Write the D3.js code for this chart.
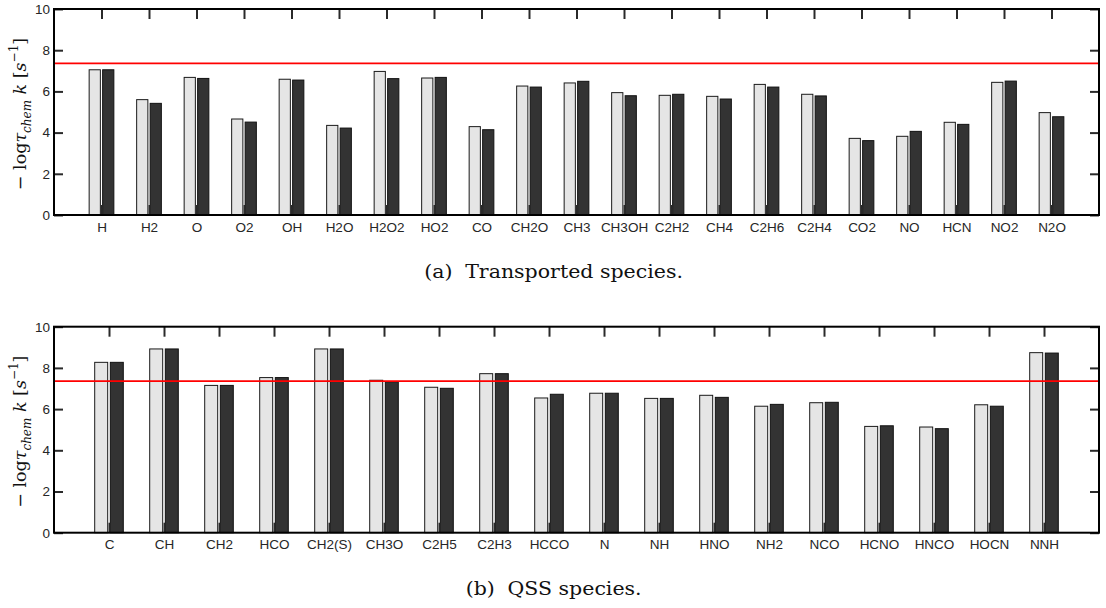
<!DOCTYPE html>
<html><head><meta charset="utf-8">
<script src="https://cdn.jsdelivr.net/npm/d3@7"></script>
<style>
html,body{margin:0;padding:0;background:#fff;}
svg{display:block;}
</style></head>
<body>
<svg id="chart" width="1106" height="608"></svg>
<script>
// ---- data ----
const topCategories = ["H","H2","O","O2","OH","H2O","H2O2","HO2","CO","CH2O","CH3","CH3OH","C2H2","CH4","C2H6","C2H4","CO2","NO","HCN","NO2","N2O"];
const topSeriesA = [7.05,5.60,6.68,4.66,6.59,4.35,6.97,6.65,4.29,6.26,6.41,5.94,5.81,5.76,6.34,5.86,3.72,3.82,4.50,6.44,4.97];
const topSeriesB = [7.05,5.42,6.63,4.51,6.55,4.22,6.62,6.68,4.14,6.21,6.49,5.79,5.86,5.63,6.21,5.78,3.61,4.06,4.40,6.50,4.77];

const bottomCategories = ["C","CH","CH2","HCO","CH2(S)","CH3O","C2H5","C2H3","HCCO","N","NH","HNO","NH2","NCO","HCNO","HNCO","HOCN","NNH"];
const bottomSeriesA = [8.27,8.92,7.15,7.53,8.92,7.40,7.06,7.72,6.54,6.77,6.52,6.67,6.14,6.31,5.16,5.13,6.21,8.74];
const bottomSeriesB = [8.27,8.92,7.15,7.53,8.92,7.33,7.01,7.72,6.72,6.77,6.52,6.57,6.23,6.33,5.19,5.05,6.14,8.72];

const threshold = 7.36;
const yTicks = [0,2,4,6,8,10];
const captions = [["(a)","Transported species."],["(b)","QSS species."]];

// ---- drawing ----
const svg = d3.select("#chart");
const left = 54, right = 1099;
const capFont = "'DejaVu Serif', serif";
const capSize = 19;
const capGap = 11.7;

function measure(str) {
  const t = svg.append("text").style("font-family", capFont).style("font-size", capSize + "px").text(str);
  const w = t.node().getComputedTextLength();
  t.remove();
  return w;
}
// horizontal scale so that caption (b) matches the reference width (176 px)
const capScale = 176 / (measure(captions[1][0]) + capGap + measure(captions[1][1]));

function panel(top, cats, sA, sB, caption) {
  const bottom = top + 206;
  const n = cats.length;
  const x = d3.scaleLinear().domain([0, n + 1]).range([left, right]);
  const y = d3.scaleLinear().domain([0, 10]).range([bottom, top]);
  const g = svg.append("g");
  const idx = d3.range(n);
  const w = 0.236, off = 0.024;

  const tickStyle = sel => {
    sel.select(".domain").remove();
    sel.selectAll(".tick line").attr("stroke", "#2a2a2a").attr("stroke-width", 2);
    sel.selectAll(".tick text").attr("fill", "#262626")
      .style("font-family", "'Liberation Sans', Arial, sans-serif").style("font-size", "13.5px");
  };
  g.append("g").attr("transform", `translate(${left},0)`)
    .call(d3.axisLeft(y).tickValues(yTicks).tickFormat(d3.format("d")).tickSizeInner(-9).tickSizeOuter(0).tickPadding(4))
    .call(tickStyle);
  g.append("g").attr("transform", `translate(${right},0)`)
    .call(d3.axisRight(y).tickValues(yTicks).tickFormat("").tickSizeInner(-9).tickSizeOuter(0))
    .call(tickStyle);
  g.append("g").attr("transform", `translate(0,${top})`)
    .call(d3.axisTop(x).tickValues(idx.map(i => i + 1)).tickFormat("").tickSizeInner(-10).tickSizeOuter(0))
    .call(tickStyle);

  // bars
  g.append("g").selectAll("rect").data(idx).join("rect")
    .attr("x", i => x(i + 1 - off - w)).attr("width", x(w) - x(0))
    .attr("y", i => y(sA[i])).attr("height", i => y(0) - y(sA[i]))
    .attr("fill", "#e5e5e5").attr("stroke", "#1a1a1a").attr("stroke-width", 1);
  g.append("g").selectAll("rect").data(idx).join("rect")
    .attr("x", i => x(i + 1 + off)).attr("width", x(w) - x(0))
    .attr("y", i => y(sB[i])).attr("height", i => y(0) - y(sB[i]))
    .attr("fill", "#333333").attr("stroke", "#111").attr("stroke-width", 1);

  g.append("g").attr("transform", `translate(0,${bottom})`)
    .call(d3.axisBottom(x).tickValues(idx.map(i => i + 1)).tickFormat(d => cats[d - 1]).tickSizeInner(-10).tickSizeOuter(0).tickPadding(7))
    .call(tickStyle);

  // threshold
  g.append("line").attr("x1", left).attr("x2", right).attr("y1", y(threshold)).attr("y2", y(threshold))
    .attr("stroke", "#ff0000").attr("stroke-width", 1.6);

  // frame
  g.append("rect").attr("x", left).attr("y", top).attr("width", right - left).attr("height", bottom - top)
    .attr("fill", "none").attr("stroke", "#000").attr("stroke-width", 2);

  // y label
  const cy = (top + bottom) / 2 + 2;
  const lab = g.append("text").attr("transform", `translate(26,${cy}) rotate(-90)`)
    .attr("text-anchor", "middle")
    .style("font-family", "'DejaVu Serif', serif").style("font-size", "17.5px").attr("fill", "#111");
  lab.append("tspan").text("− log");
  lab.append("tspan").attr("font-style", "italic").text("τ");
  lab.append("tspan").attr("font-style", "italic").attr("font-size", "12px").attr("dy", 4.5).text("chem");
  lab.append("tspan").attr("font-style", "italic").attr("dy", -4.5).text("  k  ");
  lab.append("tspan").text("[");
  lab.append("tspan").attr("font-style", "italic").text("s");
  lab.append("tspan").attr("font-size", "12px").attr("dy", -8).text("−1");
  lab.append("tspan").attr("dy", 8).text("]");

  // caption
  const w1 = measure(caption[0]), w2 = measure(caption[1]);
  const total = (w1 + capGap + w2) * capScale;
  const x0 = 553.7 - total / 2;
  const cap = g.append("g").attr("transform", `translate(${x0},${bottom + 62.5}) scale(${capScale},1)`);
  cap.append("text").attr("x", 0)
    .style("font-family", capFont).style("font-size", capSize + "px").attr("fill", "#111").text(caption[0]);
  cap.append("text").attr("x", w1 + capGap)
    .style("font-family", capFont).style("font-size", capSize + "px").attr("fill", "#111").text(caption[1]);
}

panel(9, topCategories, topSeriesA, topSeriesB, captions[0]);
panel(326.7, bottomCategories, bottomSeriesA, bottomSeriesB, captions[1]);
</script>
</body></html>
